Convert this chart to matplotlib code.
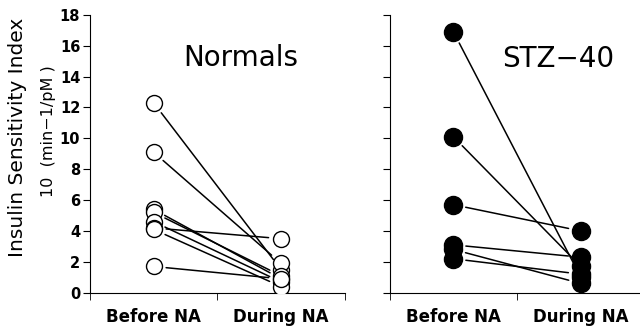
import numpy as np
import matplotlib.pyplot as plt

# values
conditions = ["Before NA", "During NA"]
normals_before = [12.3, 9.1, 5.4, 5.2, 4.6, 4.2, 4.1, 1.7]
normals_during = [1.5, 1.9, 0.9, 1.1, 0.7, 3.5, 0.4, 0.9]
stz_before = [16.9, 10.1, 5.7, 3.1, 2.8, 2.2]
stz_during = [1.0, 1.7, 4.0, 2.3, 0.6, 1.2]
y_ticks = [0, 2, 4, 6, 8, 10, 12, 14, 16, 18]


def draw_panel(ax, before, during, title, title_pos, filled, show_labels):
    xpos = [1, 3]
    for b, d in zip(before, during):
        ax.annotate("", xy=(xpos[1], d), xytext=(xpos[0], b),
                    arrowprops=dict(arrowstyle='-', color='black', lw=1.1,
                                    shrinkA=9, shrinkB=9))
    face = 'black' if filled else 'white'
    size = 13 if filled else 11.5
    for x, vals in zip(xpos, (before, during)):
        ax.plot([x] * len(vals), vals, 'o', ms=size, mfc=face, mec='black',
                mew=1.0, ls='none', zorder=3)

    ax.set_xlim(0, 4)
    ax.set_ylim(0, 18)
    ax.spines['top'].set_visible(False)
    ax.spines['right'].set_visible(False)
    ax.set_xticks(xpos)
    ax.set_xticklabels(conditions, fontsize=12, fontweight='bold')
    ax.tick_params(axis='x', length=0, pad=11)
    ax.set_xticks([0, 2, 4], minor=True)
    ax.tick_params(axis='x', which='minor', length=5, direction='out')
    ax.set_yticks(y_ticks)
    ax.tick_params(axis='y', length=5, direction='out', labelsize=10.5, pad=2)
    if show_labels:
        for lab in ax.get_yticklabels():
            lab.set_fontweight('bold')
    else:
        ax.set_yticklabels([])
    ax.text(title_pos[0], title_pos[1], title, transform=ax.transAxes,
            ha='center', va='center', fontsize=20)


fig = plt.figure(figsize=(6.4, 3.28), dpi=100)
ax1 = fig.add_axes([0.1406, 0.1076, 0.398, 0.847])
ax2 = fig.add_axes([0.609, 0.1076, 0.398, 0.847])

draw_panel(ax1, normals_before, normals_during, "Normals", (0.59, 0.845),
           False, True)
draw_panel(ax2, stz_before, stz_during, "STZ\u221240", (0.66, 0.84),
           True, False)

fig.text(0.028, 0.58, "Insulin Sensitivity Index", rotation=90,
         ha='center', va='center', fontsize=14.5)
fig.text(0.076, 0.60, "10  (min\u22121/pM )", rotation=90,
         ha='center', va='center', fontsize=11.5)

fig.savefig("out.png", dpi=100)
